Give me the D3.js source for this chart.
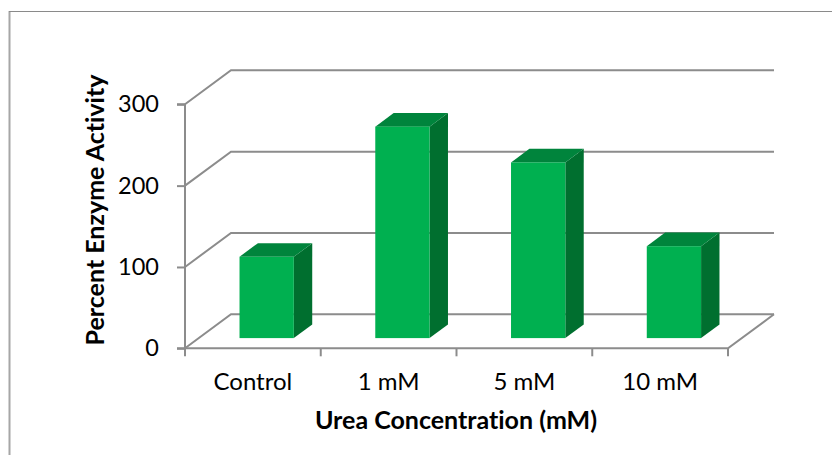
<!DOCTYPE html>
<html>
<head>
<meta charset="utf-8">
<script src="https://cdn.jsdelivr.net/npm/d3@7/dist/d3.min.js"></script>
<style>
  html, body { margin: 0; padding: 0; background: #ffffff; }
  svg { display: block; }
  text { font-family: Lato, "Open Sans", sans-serif; fill: #000; font-variant-ligatures: none; }
</style>
</head>
<body>
<svg id="chart" width="832" height="455"></svg>
<script>
// Enzyme activity under increasing urea concentration
const categories = ["Control", "1 mM", "5 mM", "10 mM"];
const activity = [100, 260, 216, 113];
const yTicks = [0, 100, 200, 300];
const xTitle = "Urea Concentration (mM)";
const yTitle = "Percent Enzyme Activity";

const svg = d3.select("#chart");
const W = 832, H = 455;

// Frame of the chart area
svg.append("line").attr("x1", 9.5).attr("y1", 11).attr("x2", 9.5).attr("y2", H)
  .attr("stroke", "#a6a6a6").attr("stroke-width", 2);
svg.append("line").attr("x1", 9).attr("y1", 11.5).attr("x2", W).attr("y2", 11.5)
  .attr("stroke", "#8a8a8a").attr("stroke-width", 1);

// Oblique projection: depth vector of the floor
const DX = 46, DY = -34;
const x = d3.scaleBand().domain(categories).range([185, 728]).padding(0);
const y = d3.scaleLinear().domain([0, 300]).range([348.3, 104.3]);
const x0 = x.range()[0], x1 = x.range()[1];

const gridColor = "#8c8c8c";
const grid = svg.append("g").attr("stroke", gridColor).attr("stroke-width", 2).attr("fill", "none");

// Back-wall gridlines and their links to the front axis
yTicks.forEach(t => {
  const yy = y(t);
  grid.append("path").attr("d", `M${x0},${yy} L${x0 + DX},${yy + DY} L${x1 + DX},${yy + DY}`);
});

// Floor front edge and right edge
grid.append("path").attr("d", `M${x0},${y(0)} L${x1},${y(0)} L${x1 + DX},${y(0) + DY}`);

// Vertical value axis with ticks
const yAxis = d3.axisLeft(y).tickValues(yTicks).tickSize(8).tickPadding(18);
const gy = svg.append("g").attr("transform", `translate(${x0},0)`).call(yAxis);
gy.select(".domain").attr("stroke", gridColor).attr("stroke-width", 2)
  .attr("d", `M-8,${y(300)}H0V${y(0)}H-8`);
gy.selectAll(".tick line").attr("stroke", gridColor).attr("stroke-width", 2);
gy.selectAll(".tick text").attr("font-size", 23.5).attr("font-family", "Lato, sans-serif").attr("fill", "#000");

// Category axis ticks at band boundaries
const bounds = categories.map(c => x(c)).concat([x1]);
svg.append("g").selectAll("line").data(bounds).join("line")
  .attr("x1", d => d).attr("x2", d => d)
  .attr("y1", y(0)).attr("y2", y(0) + 8)
  .attr("stroke", gridColor).attr("stroke-width", 2);

// Category labels
svg.append("g").selectAll("text").data(categories).join("text")
  .attr("x", d => x(d) + x.bandwidth() / 2)
  .attr("y", 390)
  .attr("text-anchor", "middle")
  .attr("font-size", 24)
  .text(d => d);

// 3D columns
const barW = x.bandwidth() * 0.4;
const z0 = 0.3, z1 = 0.7;
const fdx = z0 * DX, fdy = z0 * DY;
const bdx = (z1 - z0) * DX, bdy = (z1 - z0) * DY;

const bars = svg.append("g").selectAll("g").data(categories.map((c, i) => ({ c, v: activity[i] })))
  .join("g");

bars.each(function(d) {
  const g = d3.select(this);
  const left = x(d.c) + x.bandwidth() / 2 - barW / 2 + fdx;
  const right = left + barW;
  const top = y(d.v) + fdy;
  const bottom = y(0) + fdy;
  // side face
  g.append("path")
    .attr("d", `M${right},${top} L${right + bdx},${top + bdy} L${right + bdx},${bottom + bdy} L${right},${bottom} Z`)
    .attr("fill", "#006f2f");
  // top face
  g.append("path")
    .attr("d", `M${left},${top} L${left + bdx},${top + bdy} L${right + bdx},${top + bdy} L${right},${top} Z`)
    .attr("fill", "#00843c");
  // front face
  g.append("rect")
    .attr("x", left).attr("y", top)
    .attr("width", barW).attr("height", bottom - top)
    .attr("fill", "#00b050");
});

// Axis titles
svg.append("text")
  .attr("x", 456).attr("y", 429)
  .attr("text-anchor", "middle")
  .attr("font-size", 25).attr("font-weight", "bold")
  .text(xTitle);

svg.append("text")
  .attr("transform", "translate(104,210) rotate(-90)")
  .attr("text-anchor", "middle")
  .attr("font-size", 25).attr("font-weight", "bold")
  .text(yTitle);
</script>
</body>
</html>
